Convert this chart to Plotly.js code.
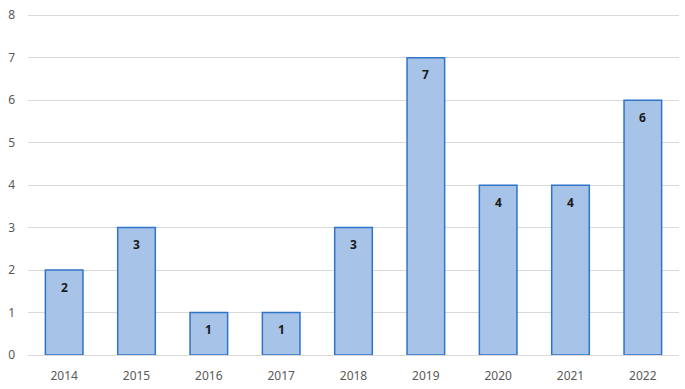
<!DOCTYPE html>
<html>
<head>
<meta charset="utf-8">
<script src="https://cdn.plot.ly/plotly-3.0.1.min.js"></script>
<style>html,body{margin:0;padding:0;background:#fff;}#chart{width:685px;height:389px;}</style>
</head>
<body>
<div id="chart"></div>
<script>
var years = ['2014','2015','2016','2017','2018','2019','2020','2021','2022'];
var counts = [2, 3, 1, 1, 3, 7, 4, 4, 6];
var yTicks = [0, 1, 2, 3, 4, 5, 6, 7, 8];

var trace = {
  type: 'bar',
  x: years,
  y: counts,
  width: 0.52,
  marker: {
    color: '#a7c3e8',
    line: {color: '#2f74c6', width: 1.5}
  },
  hoverinfo: 'x+y'
};

var annotations = years.map(function(yr, i){
  return {
    x: i, y: counts[i], xref: 'x', yref: 'y',
    text: '<b>' + counts[i] + '</b>',
    showarrow: false, yshift: -17,
    font: {family: 'Noto Sans, sans-serif', size: 12, color: '#1a1a1a'}
  };
});

var layout = {
  width: 685, height: 389,
  margin: {l: 28, r: 6, t: 14, b: 34},
  paper_bgcolor: '#ffffff',
  plot_bgcolor: '#ffffff',
  showlegend: false,
  font: {family: 'Noto Sans, sans-serif', size: 12, color: '#595959'},
  xaxis: {
    type: 'category',
    range: [-0.5, years.length - 0.5],
    showgrid: false,
    zeroline: false,
    showline: false,
    ticks: '',
    ticklabelstandoff: 12,
    tickfont: {size: 12, color: '#595959'}
  },
  yaxis: {
    range: [0, 8.03],
    tickvals: yTicks,
    ticktext: yTicks.map(String),
    showgrid: true,
    gridcolor: '#d9d9d9',
    gridwidth: 1,
    zeroline: true,
    zerolinecolor: '#d9d9d9',
    zerolinewidth: 1,
    showline: false,
    ticks: '',
    ticklabelstandoff: 12,
    tickfont: {size: 12, color: '#595959'}
  },
  annotations: annotations
};

Plotly.newPlot('chart', [trace], layout, {displayModeBar: false, staticPlot: true});
</script>
</body>
</html>
